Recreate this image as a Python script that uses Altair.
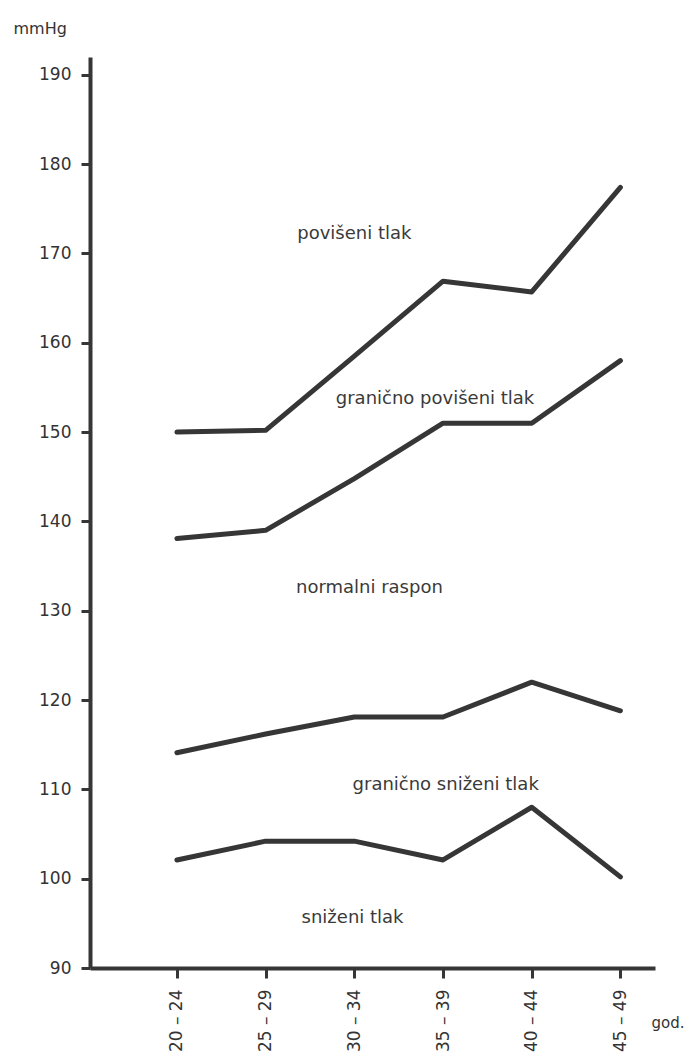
import json
import altair as alt
import pandas as pd

# ---- data ----
age_groups = ["20 – 24", "25 – 29", "30 – 34", "35 – 39", "40 – 44", "45 – 49"]
upper_high = [150.0, 150.2, 158.5, 166.9, 165.7, 177.4]      # povišeni / granično povišeni
upper_border = [138.1, 139.0, 144.8, 151.0, 151.0, 158.0]    # granično povišeni / normalni
lower_normal = [114.1, 116.2, 118.1, 118.1, 122.0, 118.8]    # normalni / granično sniženi
lower_low = [102.1, 104.2, 104.2, 102.1, 108.0, 100.2]       # granično sniženi / sniženi
series_names = ["gornja", "granica_povisen", "granica_normal", "donja"]

y_ticks = [90, 100, 110, 120, 130, 140, 150, 160, 170, 180, 190]

region_labels = ["povišeni tlak", "granično povišeni tlak", "normalni raspon",
                 "granično sniženi tlak", "sniženi tlak"]
region_x = [2.0, 2.91, 2.17, 3.03, 1.98]
region_y = [172.2, 153.7, 132.6, 110.5, 95.6]

# ---- build tables ----
rows = []
for name, vals in zip(series_names, [upper_high, upper_border, lower_normal, lower_low]):
    for i, v in enumerate(vals):
        rows.append({"series": name, "idx": i, "value": v})
lines_df = pd.DataFrame(rows)
labels_df = pd.DataFrame({"label": region_labels, "idx": region_x, "value": region_y})

ink = "#363636"
font = "DejaVu Sans"
label_expr = json.dumps(age_groups, ensure_ascii=False) + "[datum.value]"

x_enc = alt.X(
    "idx:Q",
    scale=alt.Scale(domain=[-0.98, 5.39], nice=False, zero=False),
    axis=alt.Axis(
        values=list(range(len(age_groups))),
        labelExpr=label_expr,
        labelAngle=270,
        labelPadding=11,
        labelFontSize=17,
        tickSize=10,
        title="god.",
        titleFontSize=15,
        titleAngle=0,
        titleAlign="left",
        titleBaseline="middle",
        titleX=561,
        titleY=54,
    ),
)
y_enc = alt.Y(
    "value:Q",
    scale=alt.Scale(domain=[90, 192], nice=False, zero=False),
    axis=alt.Axis(
        values=y_ticks,
        tickSize=9,
        labelPadding=10,
        title="mmHg",
        titleAngle=0,
        titleAlign="left",
        titleBaseline="middle",
        titleX=-77,
        titleY=-29,
    ),
)

lines = alt.Chart(lines_df).mark_line(
    strokeWidth=5, strokeCap="round", strokeJoin="round", color=ink
).encode(x=x_enc, y=y_enc, detail="series:N", order="idx:Q")

texts = alt.Chart(labels_df).mark_text(
    font=font, fontSize=18, color="#3a3a3a", align="center", baseline="middle"
).encode(x="idx:Q", y="value:Q", text="label:N")

chart = (
    alt.layer(lines, texts)
    .properties(
        width=565,
        height=911,
        autosize=alt.AutoSizeParams(type="none"),
        padding={"left": 82, "top": 49, "right": 32, "bottom": 85},
        background="white",
    )
    .configure_view(stroke=None)
    .configure_axis(
        grid=False,
        domainColor=ink,
        domainWidth=4,
        tickColor=ink,
        tickWidth=3,
        labelFont=font,
        labelFontSize=17,
        labelColor="#333333",
        titleFont=font,
        titleFontSize=16,
        titleFontWeight="normal",
        titleColor="#333333",
    )
)

chart.save("out.html", embed_options={"renderer": "svg", "actions": False})
